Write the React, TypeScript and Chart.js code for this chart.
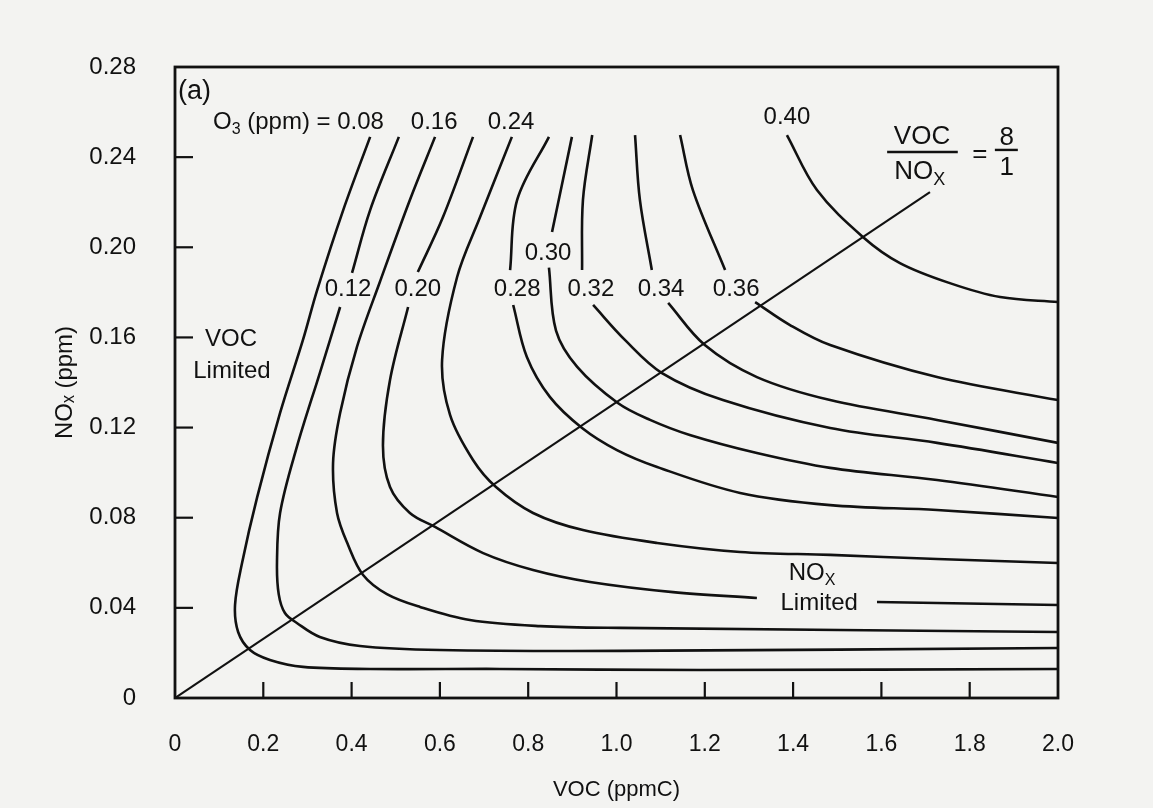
import React, { useEffect, useRef } from "react";
import { Chart, registerables } from "chart.js";

Chart.register(...registerables);

type Pt = [number, number];

// ---------- axis ticks ----------
const xTickValues = [0, 0.2, 0.4, 0.6, 0.8, 1.0, 1.2, 1.4, 1.6, 1.8, 2.0];
const xTickLabels = ["0", "0.2", "0.4", "0.6", "0.8", "1.0", "1.2", "1.4", "1.6", "1.8", "2.0"];
const yTickValues = [0, 0.04, 0.08, 0.12, 0.16, 0.2, 0.24, 0.28];
const yTickLabels = ["0", "0.04", "0.08", "0.12", "0.16", "0.20", "0.24", "0.28"];
const xTickMarks = [0.2, 0.4, 0.6, 0.8, 1.0, 1.2, 1.4, 1.6, 1.8];
const yTickMarks = [0.04, 0.08, 0.12, 0.16, 0.2, 0.24];

// ---------- O3 isopleths (VOC ppmC, NOx ppm); each curve split into segments at label gaps ----------
const iso008: Pt[][] = [
  [[0.442, 0.249], [0.381, 0.2165], [0.322, 0.181], [0.29, 0.159], [0.238, 0.1265], [0.186, 0.089], [0.152, 0.06], [0.136, 0.0413], [0.143, 0.0293], [0.17, 0.0213], [0.215, 0.0169], [0.29, 0.0138], [0.442, 0.0129], [0.736, 0.0129], [1.19, 0.0124], [2.0, 0.0129]],
];
const iso012: Pt[][] = [
  [[0.507, 0.249], [0.442, 0.2165], [0.401, 0.1886]],
  [[0.374, 0.1735], [0.328, 0.1442], [0.276, 0.1114], [0.238, 0.0821], [0.231, 0.06], [0.235, 0.046], [0.249, 0.0377], [0.276, 0.0333], [0.328, 0.0271], [0.419, 0.0231], [0.6, 0.0213], [1.008, 0.0209], [2.0, 0.0222]],
];
const iso016: Pt[][] = [
  [[0.589, 0.249], [0.532, 0.221], [0.464, 0.1846], [0.412, 0.1557], [0.374, 0.1265], [0.358, 0.1043], [0.367, 0.0821], [0.392, 0.0679], [0.426, 0.0546], [0.48, 0.0461], [0.555, 0.0404], [0.668, 0.0346], [0.827, 0.0319], [1.008, 0.0311], [2.0, 0.0293]],
];
const iso020: Pt[][] = [
  [[0.675, 0.249], [0.607, 0.2134], [0.55, 0.189]],
  [[0.528, 0.1735], [0.487, 0.1411], [0.471, 0.112], [0.487, 0.0936], [0.532, 0.0821], [0.589, 0.0759], [0.698, 0.0643], [0.811, 0.0568], [0.94, 0.0515], [1.128, 0.047], [1.318, 0.0444]],
  [[1.59, 0.0426], [2.0, 0.0413]],
];
const iso024: Pt[][] = [
  [[0.763, 0.249], [0.691, 0.2134], [0.639, 0.1868], [0.605, 0.15], [0.623, 0.1256], [0.675, 0.1056], [0.727, 0.0936], [0.811, 0.0821], [0.924, 0.0745], [1.092, 0.0688], [1.28, 0.0648], [1.484, 0.0635], [1.726, 0.0617], [2.0, 0.0599]],
];
const iso028: Pt[][] = [
  [[0.847, 0.249], [0.775, 0.221], [0.759, 0.1899]],
  [[0.766, 0.1744], [0.797, 0.1513], [0.849, 0.1336], [0.922, 0.1198], [1.001, 0.11], [1.092, 0.1025], [1.28, 0.091], [1.484, 0.0856], [1.726, 0.0834], [2.0, 0.0799]],
];
const iso030: Pt[][] = [
  [[0.899, 0.249], [0.854, 0.2068]],
  [[0.847, 0.191], [0.863, 0.163], [0.911, 0.1469], [1.003, 0.1309], [1.076, 0.1234], [1.166, 0.1167], [1.318, 0.1087], [1.484, 0.1021], [1.726, 0.0967], [2.0, 0.0892]],
];
const iso032: Pt[][] = [
  [[0.945, 0.2498], [0.924, 0.221], [0.922, 0.1899]],
  [[0.947, 0.1744], [1.019, 0.1589], [1.103, 0.1442], [1.241, 0.1322], [1.484, 0.1198], [1.726, 0.1132], [2.0, 0.1043]],
];
const iso034: Pt[][] = [
  [[1.042, 0.2498], [1.053, 0.221], [1.08, 0.1899]],
  [[1.117, 0.1753], [1.2, 0.1566], [1.318, 0.1424], [1.484, 0.1322], [1.726, 0.1234], [2.0, 0.1132]],
];
const iso036: Pt[][] = [
  [[1.144, 0.2498], [1.173, 0.2254], [1.246, 0.1899]],
  [[1.314, 0.1757], [1.393, 0.1655], [1.484, 0.1566], [1.726, 0.1424], [2.0, 0.1322]],
];
const iso040: Pt[][] = [
  [[1.386, 0.2498], [1.454, 0.2254], [1.558, 0.2046], [1.642, 0.193], [1.755, 0.1841], [1.869, 0.1779], [2.0, 0.1757]],
];

// VOC/NOx = 8/1 ratio line
const ratioLine: Pt[] = [[0, 0], [1.71, 0.2245]];

const isopleths = [iso008, iso012, iso016, iso020, iso024, iso028, iso030, iso032, iso034, iso036, iso040];

// ---------- styles ----------
const INK = "#111111";
const PAPER = "#f3f3f1";
const FONT = "'Liberation Sans', Arial, Helvetica, sans-serif";

type Part = { t: string; sub?: boolean };
type Note = { parts: Part[]; x: number; y: number; align?: "left" | "center"; size?: number };

const notes: Note[] = [
  { parts: [{ t: "(a)" }], x: 0.007, y: 0.2693, align: "left", size: 27 },
  { parts: [{ t: "O" }, { t: "3", sub: true }, { t: " (ppm) = 0.08" }], x: 0.086, y: 0.2556, align: "left" },
  { parts: [{ t: "0.16" }], x: 0.587, y: 0.2556 },
  { parts: [{ t: "0.24" }], x: 0.761, y: 0.2556 },
  { parts: [{ t: "0.40" }], x: 1.386, y: 0.2578 },
  { parts: [{ t: "0.30" }], x: 0.845, y: 0.1975 },
  { parts: [{ t: "0.12" }], x: 0.392, y: 0.1815 },
  { parts: [{ t: "0.20" }], x: 0.55, y: 0.1815 },
  { parts: [{ t: "0.28" }], x: 0.775, y: 0.1815 },
  { parts: [{ t: "0.32" }], x: 0.942, y: 0.1815 },
  { parts: [{ t: "0.34" }], x: 1.101, y: 0.1815 },
  { parts: [{ t: "0.36" }], x: 1.271, y: 0.1815 },
  { parts: [{ t: "VOC" }], x: 0.127, y: 0.1593 },
  { parts: [{ t: "Limited" }], x: 0.129, y: 0.1451 },
  { parts: [{ t: "NO" }, { t: "X", sub: true }], x: 1.443, y: 0.0555 },
  { parts: [{ t: "Limited" }], x: 1.459, y: 0.0422 },
  { parts: [{ t: "VOC" }], x: 1.692, y: 0.2489, size: 26 },
  { parts: [{ t: "NO" }, { t: "X", sub: true }], x: 1.687, y: 0.2334, size: 26 },
  { parts: [{ t: "=" }], x: 1.823, y: 0.241, size: 26 },
  { parts: [{ t: "8" }], x: 1.884, y: 0.2485, size: 26 },
  { parts: [{ t: "1" }], x: 1.884, y: 0.2352, size: 26 },
];
const fractionBars: { x0: number; x1: number; y: number }[] = [
  { x0: 1.613, x1: 1.773, y: 0.2423 },
  { x0: 1.857, x1: 1.909, y: 0.2432 },
];

function drawRich(ctx: CanvasRenderingContext2D, parts: Part[], px: number, py: number, size: number, align: string) {
  const widths = parts.map((p) => {
    ctx.font = `${p.sub ? Math.round(size * 0.68) : size}px ${FONT}`;
    return ctx.measureText(p.t).width;
  });
  const total = widths.reduce((a, b) => a + b, 0);
  let x = align === "left" ? px : px - total / 2;
  ctx.textAlign = "left";
  ctx.textBaseline = "middle";
  parts.forEach((p, i) => {
    ctx.font = `${p.sub ? Math.round(size * 0.68) : size}px ${FONT}`;
    ctx.fillText(p.t, x, py + (p.sub ? size * 0.3 : 0));
    x += widths[i];
  });
}

const decorPlugin = {
  id: "decor",
  afterDraw(chart: any) {
    const { ctx, chartArea: a, scales } = chart;
    const xs = scales.x;
    const ys = scales.y;
    ctx.save();
    ctx.strokeStyle = INK;
    ctx.lineWidth = 2.8;
    ctx.strokeRect(a.left, a.top, a.right - a.left, a.bottom - a.top);
    ctx.lineWidth = 2.2;
    for (const v of xTickMarks) {
      const px = xs.getPixelForValue(v);
      ctx.beginPath();
      ctx.moveTo(px, a.bottom);
      ctx.lineTo(px, a.bottom - 16);
      ctx.stroke();
    }
    for (const v of yTickMarks) {
      const py = ys.getPixelForValue(v);
      ctx.beginPath();
      ctx.moveTo(a.left, py);
      ctx.lineTo(a.left + 18, py);
      ctx.stroke();
    }
    ctx.fillStyle = INK;
    for (const n of notes) {
      drawRich(ctx, n.parts, xs.getPixelForValue(n.x), ys.getPixelForValue(n.y), n.size ?? 24, n.align ?? "center");
    }
    ctx.lineWidth = 2.4;
    for (const b of fractionBars) {
      const py = ys.getPixelForValue(b.y);
      ctx.beginPath();
      ctx.moveTo(xs.getPixelForValue(b.x0), py);
      ctx.lineTo(xs.getPixelForValue(b.x1), py);
      ctx.stroke();
    }
    ctx.restore();
  },
};

export default function App() {
  const ref = useRef<HTMLCanvasElement>(null);

  useEffect(() => {
    const lineStyle = {
      showLine: true,
      borderColor: INK,
      borderWidth: 2.6,
      pointRadius: 0,
      pointHoverRadius: 0,
      fill: false,
    };
    const datasets: any[] = [];
    isopleths.forEach((segs) =>
      segs.forEach((seg) =>
        datasets.push({ ...lineStyle, tension: 0.35, data: seg.map(([x, y]) => ({ x, y })) })
      )
    );
    datasets.push({ ...lineStyle, borderWidth: 2.1, tension: 0, data: ratioLine.map(([x, y]) => ({ x, y })) });

    const chart = new Chart(ref.current as HTMLCanvasElement, {
      type: "scatter",
      data: { datasets },
      options: {
        animation: false,
        responsive: true,
        maintainAspectRatio: false,
        layout: { padding: { left: 0, top: 67, right: 95, bottom: 0 } },
        plugins: { legend: { display: false }, tooltip: { enabled: false } },
        events: [],
        scales: {
          x: {
            type: "linear",
            min: 0,
            max: 2,
            grid: { display: false, drawTicks: false },
            border: { display: false },
            afterBuildTicks: (s: any) => {
              s.ticks = xTickValues.map((v) => ({ value: v }));
            },
            afterFit: (s: any) => {
              s.height = 110;
            },
            ticks: {
              autoSkip: false,
              maxRotation: 0,
              padding: 33,
              color: INK,
              font: { family: FONT, size: 23 },
              callback: (_v: any, i: number) => xTickLabels[i],
            },
            title: {
              display: true,
              text: "VOC (ppmC)",
              color: INK,
              font: { family: FONT, size: 22 },
              padding: { top: 0, bottom: 5 },
            },
          },
          y: {
            type: "linear",
            min: 0,
            max: 0.28,
            grid: { display: false, drawTicks: false },
            border: { display: false },
            afterBuildTicks: (s: any) => {
              s.ticks = yTickValues.map((v) => ({ value: v }));
            },
            afterFit: (s: any) => {
              s.width = 175;
            },
            ticks: {
              autoSkip: false,
              padding: 39,
              color: INK,
              font: { family: FONT, size: 24 },
              callback: (_v: any, i: number) => yTickLabels[i],
            },
            title: {
              display: true,
              text: "NOₓ (ppm)",
              color: INK,
              font: { family: FONT, size: 24 },
              padding: { top: 51, bottom: 0 },
            },
          },
        },
      } as any,
      plugins: [decorPlugin],
    });
    return () => chart.destroy();
  }, []);

  return (
    <div style={{ position: "fixed", left: 0, top: 0, width: 1153, height: 808, background: PAPER }}>
      <canvas ref={ref} />
    </div>
  );
}
